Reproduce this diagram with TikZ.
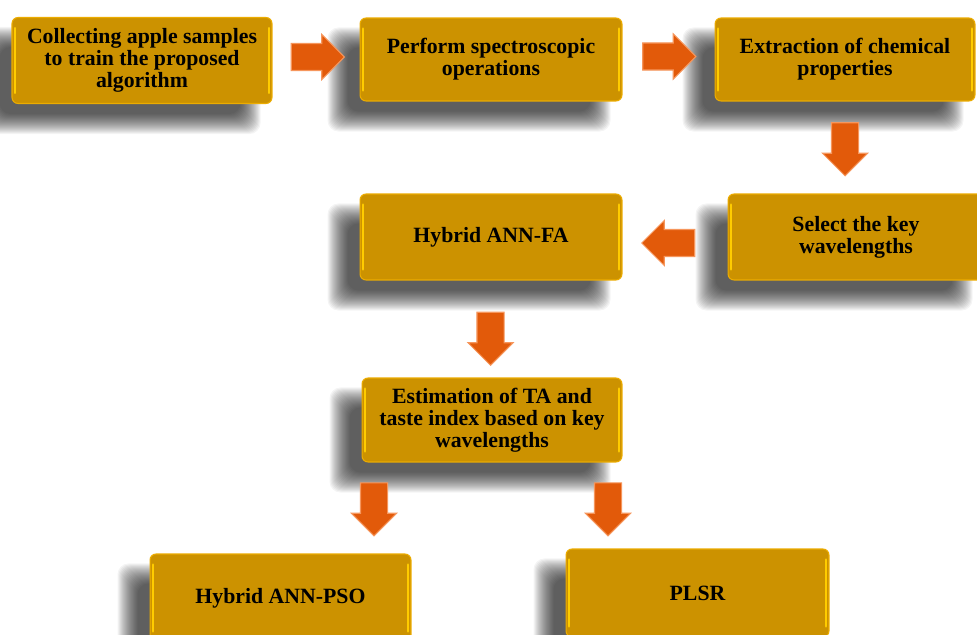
\documentclass[tikz,border=0pt]{standalone}
\usepackage{fontspec}
\setmainfont{Liberation Serif}
\usetikzlibrary{shapes.arrows,calc}
\pgfdeclarelayer{background}
\pgfsetlayers{background,main}
\definecolor{boxfill}{RGB}{204,146,0}
\definecolor{boxedge}{RGB}{236,172,0}
\definecolor{hilite}{RGB}{255,204,0}
\definecolor{arrowfill}{RGB}{226,90,10}
\definecolor{arrowedge}{RGB}{246,150,92}
\tikzset{
  box/.style={draw=boxedge, line width=0.6pt, fill=boxfill, rounded corners=0.12cm,
    font=\bfseries\fontsize{12.4}{12.6}\selectfont, align=center, inner sep=0pt, text=black,
    path picture={
      \draw[hilite, line width=1.3pt, line cap=round]
        ([xshift=1.6pt,yshift=-6pt]path picture bounding box.north west) --
        ([xshift=1.6pt,yshift=6pt]path picture bounding box.south west);
      \draw[hilite, line width=1.3pt, line cap=round]
        ([xshift=-1.6pt,yshift=-6pt]path picture bounding box.north east) --
        ([xshift=-1.6pt,yshift=6pt]path picture bounding box.south east);}},
  barrow/.style={single arrow, fill=arrowfill, draw=arrowedge, line width=0.6pt,
    minimum height=1.06cm, single arrow head extend=0.18cm, anchor=center},
  toright/.style={shape border rotate=0, inner xsep=0pt, inner ysep=0.26cm},
  toleft/.style={shape border rotate=180, inner xsep=0pt, inner ysep=0.26cm},
  todown/.style={shape border rotate=270, inner ysep=0pt, inner xsep=0.26cm}
}
\newcommand\boxshadow[1]{%
  \foreach \s in {-10,...,10}{%
    \fill[black,opacity=0.042,rounded corners=0.22cm]
      ($(#1.north west)+(-22+\s,20+\s)$) rectangle ($(#1.south east)+(-22-\s,20-\s)$);}}
\begin{document}
\begin{tikzpicture}[x=0.02cm,y=-0.02cm]
\useasboundingbox (0,0) rectangle (977,635);
\clip (0,0) rectangle (977,635);

\node[box, minimum width=5.2cm, minimum height=1.72cm] (b1) at (142,60.5)
  {Collecting apple samples\\to train the proposed\\algorithm};
\node[box, minimum width=5.24cm, minimum height=1.66cm] (b2) at (491,59.5)
  {Perform spectroscopic\\operations};
\node[box, minimum width=5.2cm, minimum height=1.66cm] (b3) at (845,59.5)
  {Extraction of chemical\\properties};
\node[box, minimum width=5.12cm, minimum height=1.72cm] (b4) at (856,237)
  {Select the key\\wavelengths};
\node[box, minimum width=5.24cm, minimum height=1.72cm] (b5) at (491,237)
  {Hybrid ANN-FA};
\node[box, minimum width=5.2cm, minimum height=1.68cm] (b6) at (492,420)
  {Estimation of TA and\\taste index based on key\\wavelengths};
\node[box, minimum width=5.22cm, minimum height=1.76cm] (b7) at (280.5,598)
  {Hybrid ANN-PSO};
\node[box, minimum width=5.26cm, minimum height=1.76cm] (b8) at (697.5,593)
  {PLSR};

\begin{pgfonlayer}{background}
  \fill[white] (0,0) rectangle (977,635);
  \boxshadow{b1}\boxshadow{b2}\boxshadow{b3}\boxshadow{b4}
  \boxshadow{b5}\boxshadow{b6}\boxshadow{b7}\boxshadow{b8}
\end{pgfonlayer}

\node[barrow, toright] (a1) at ($(b1.east)!0.5!(b2.west)+(-5,-3)$) {};
\node[barrow, toright] (a2) at ($(b2.east)!0.5!(b3.west)+(-6,-3)$) {};
\node[barrow, todown]  (a3) at ($(b3.south)!0.5!(b3.south |- b4.north)+(0,-5)$) {};
\node[barrow, toleft]  (a4) at ($(b5.east)!0.5!(b4.west)+(0,6)$) {};
\node[barrow, todown]  (a5) at ($(b5.south)!0.5!(b6.north)+(-1,3)$) {};
\node[barrow, todown]  (a6) at ($(b6.south)+(-118,40)$) {};
\node[barrow, todown]  (a7) at ($(b6.south)+(116,40)$) {};
\end{tikzpicture}
\end{document}
